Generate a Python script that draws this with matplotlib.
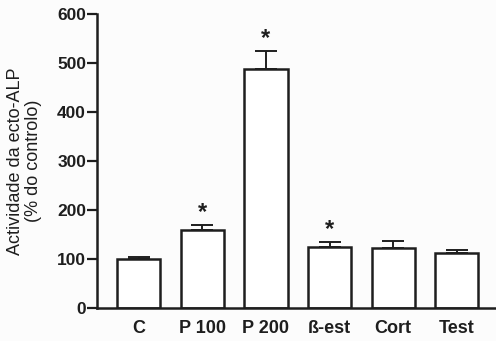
import matplotlib.pyplot as plt

categories = ["C", "P 100", "P 200", "ß-est", "Cort", "Test"]
values = [100, 159, 488, 124, 122, 113]
errors = [3, 10, 37, 11, 15, 6]
significant = [False, True, True, True, False, False]

plt.rcParams['font.family'] = ['Liberation Sans', 'DejaVu Sans']

fig = plt.figure(figsize=(4.96, 3.41), dpi=100)
fig.patch.set_facecolor('#fcfcfc')
ax = fig.add_axes([0.196, 0.097, 0.802, 0.862])
ax.set_facecolor('#fcfcfc')

x = list(range(len(categories)))
ink = '#1e1e1e'
ax.bar(x, values, width=0.68, color='white', edgecolor=ink, linewidth=1.8, zorder=2)
ax.errorbar(x, values, yerr=[[0] * len(errors), errors], fmt='none', ecolor=ink,
            elinewidth=1.4, capsize=8, capthick=1.4, zorder=1)

for xi, v, e, s in zip(x, values, errors, significant):
    if s:
        ax.text(xi, v + e + 2, '*', ha='center', va='bottom', fontsize=17,
                fontweight='bold', color=ink)

ax.set_xlim(-0.65, 5.6)
ax.set_ylim(0, 600)
ax.set_yticks([0, 100, 200, 300, 400, 500, 600])
ax.set_xticks(x)
ax.set_xticklabels(categories)
ax.tick_params(axis='x', length=0, pad=9, labelsize=13, colors=ink)
ax.tick_params(axis='y', length=7, width=1.6, pad=1, labelsize=12.5, colors=ink)
for lab in ax.get_xticklabels() + ax.get_yticklabels():
    lab.set_fontweight('bold')

ax.spines['top'].set_visible(False)
ax.spines['right'].set_visible(False)
ax.spines['left'].set_linewidth(1.8)
ax.spines['bottom'].set_linewidth(1.8)
ax.spines['left'].set_color(ink)
ax.spines['bottom'].set_color(ink)

ax.set_ylabel("Actividade da ecto-ALP\n(% do controlo)", fontsize=13, color=ink,
              linespacing=1.1, labelpad=11)

fig.savefig('out.png', dpi=100, facecolor=fig.get_facecolor())
